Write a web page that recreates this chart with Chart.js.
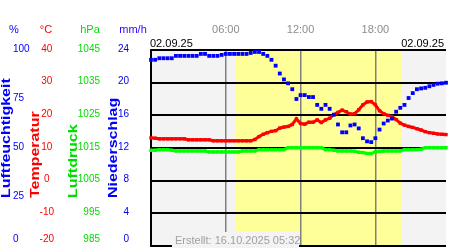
<!DOCTYPE html>
<html>
<head>
<meta charset="utf-8">
<script src="https://cdn.jsdelivr.net/npm/chart.js@4.4.0/dist/chart.umd.min.js"></script>
<style>
  body { margin: 0; background: #fff; }
  canvas { display: block; }
</style>
</head>
<body>
<canvas id="chart" width="450" height="250"></canvas>
<script>
// sample times (20 min steps) for 02.09.25
const times = [
  '00:00','00:20','00:40','01:00','01:20','01:40','02:00','02:20','02:40','03:00','03:20','03:40',
  '04:00','04:20','04:40','05:00','05:20','05:40','06:00','06:20','06:40','07:00','07:20','07:40',
  '08:00','08:20','08:40','09:00','09:20','09:40','10:00','10:20','10:40','11:00','11:20','11:40',
  '12:00','12:20','12:40','13:00','13:20','13:40','14:00','14:20','14:40','15:00','15:20','15:40',
  '16:00','16:20','16:40','17:00','17:20','17:40','18:00','18:20','18:40','19:00','19:20','19:40',
  '20:00','20:20','20:40','21:00','21:20','21:40','22:00','22:20','22:40','23:00','23:20','23:40'
];

// Luftfeuchtigkeit in %
const humidity = [
  95, 95, 95.8, 95.8, 95.8, 95.8, 97, 97, 97, 97, 97, 97,
  98, 98, 97, 97, 97, 97.5, 98, 98, 98, 98, 98, 98,
  98.5, 99, 99, 98, 97, 95, 92, 88, 85, 83, 80, 75,
  77, 77, 76, 76, 72, 70, 72, 70, 67, 62, 58, 58,
  61.5, 62, 60, 55, 53.4, 53, 55, 59.4, 62.5, 64, 65, 68.5,
  70.5, 72, 75.5, 78, 80, 80.4, 80.7, 81.5, 82.2, 82.8, 83, 83.3
];

// Temperatur in °C
const temperature = [
  13.1, 13.0, 12.8, 12.8, 12.8, 12.8, 12.8, 12.8, 12.8, 12.5, 12.5, 12.5,
  12.5, 12.5, 12.5, 12.2, 12.2, 12.2, 12.2, 12.2, 12.2, 12.2, 12.2, 12.2,
  12.2, 12.6, 13.5, 14.2, 14.7, 15.1, 15.3, 16.1, 16.4, 16.6, 17.2, 18.9,
  17.5, 17.3, 17.9, 17.9, 18.6, 17.8, 18.6, 19.1, 20.2, 20.9, 21.6, 21.1,
  20.4, 20.5, 21.7, 23.2, 24.1, 24.2, 23.2, 21.4, 20.5, 20.0, 19.6, 18.7,
  17.6, 17.0, 16.6, 16.3, 15.9, 15.5, 15.0, 14.7, 14.5, 14.3, 14.2, 14.1
];

// Luftdruck in hPa
const pressure = [
  1014.3, 1014.3, 1014.5, 1014.5, 1014.5, 1014.3, 1014.1, 1014.1, 1014.1, 1014.1, 1014.1, 1014.1,
  1014.1, 1014.1, 1013.8, 1013.8, 1013.8, 1013.8, 1013.8, 1013.8, 1013.8, 1013.8, 1014.1, 1014.1,
  1014.1, 1014.1, 1014.5, 1014.5, 1014.5, 1014.5, 1014.5, 1014.5, 1014.5, 1015.1, 1015.1, 1015.1,
  1015.1, 1015.1, 1015.1, 1015.1, 1015.1, 1015.1, 1014.5, 1014.5, 1014.3, 1014.1, 1014.1, 1014.1,
  1014.1, 1014.0, 1013.7, 1013.6, 1013.3, 1013.3, 1013.8, 1014.0, 1014.1, 1014.1, 1014.1, 1014.1,
  1014.1, 1014.5, 1014.5, 1014.5, 1014.5, 1014.6, 1015.1, 1015.1, 1015.1, 1015.1, 1015.1, 1015.1
];

// sunrise / sunset (yellow band)
const daylight = ['06:44', '20:05'];
const hourTicks = ['06:00', '12:00', '18:00'];
const dateLabel = '02.09.25';
const createdLabel = 'Erstellt: 16.10.2025 05:32';

const FONT = "'Liberation Sans', Arial, sans-serif";
Chart.defaults.font.family = FONT;
Chart.defaults.font.size = 10;

const timeIndex = t => (parseInt(t.slice(0, 2)) * 60 + parseInt(t.slice(3))) / 20;

// first tick label lifted a bit so it stays inside the canvas
const bottomLabel = (bottom) => (v) => v === bottom ? [String(v), ''] : String(v);

// fixed box sizes, no extra padding from labels
const fixSize = (w, h) => s => {
  if (w !== undefined) s.width = w;
  if (h !== undefined) s.height = h;
  s.paddingTop = s.paddingBottom = s.paddingLeft = s.paddingRight = 0;
};

function yAxis(opts) {
  return {
    position: 'left',
    weight: opts.weight,
    min: opts.min,
    max: opts.max,
    afterFit: fixSize(opts.width),
    grid: opts.grid || { display: false, drawTicks: false },
    border: opts.border || { display: false },
    title: { display: false },
    ticks: {
      stepSize: opts.step,
      color: opts.color,
      padding: opts.padding,
      crossAlign: opts.align,
      labelOffset: -1,
      font: { size: 10 },
      callback: bottomLabel(opts.min)
    }
  };
}

const decor = {
  id: 'decor',
  beforeDraw(chart) {
    const { ctx, chartArea: a, scales } = chart;
    ctx.save();
    ctx.fillStyle = '#f3f3f3';
    ctx.fillRect(a.left, a.top, a.right - a.left, a.bottom - a.top);
    const x1 = scales.x.getPixelForValue(timeIndex(daylight[0]));
    const x2 = scales.x.getPixelForValue(timeIndex(daylight[1]));
    ctx.fillStyle = '#ffff99';
    ctx.fillRect(x1, a.top, x2 - x1, a.bottom - a.top);
    ctx.restore();
  },
  afterDraw(chart) {
    const { ctx, chartArea: a } = chart;
    ctx.save();
    ctx.textBaseline = 'middle';
    ctx.font = '11px ' + FONT;

    // unit header
    ctx.textAlign = 'center';
    [['%', 14, '#0000ff'], ['°C', 46, '#ff0000'], ['hPa', 90, '#00dd00'], ['mm/h', 133, '#3300ff']]
      .forEach(([t, x, c]) => { ctx.fillStyle = c; ctx.fillText(t, x, 30); });

    // dates
    ctx.fillStyle = '#000';
    ctx.textAlign = 'left';
    ctx.fillText(dateLabel, a.left - 1, 44);
    ctx.textAlign = 'right';
    ctx.fillText(dateLabel, a.right - 2, 44);

    // created box at the bottom
    ctx.fillStyle = '#f3f3f3';
    ctx.fillRect(172, 232, 127, 16);
    ctx.fillStyle = '#a0a0a0';
    ctx.textAlign = 'left';
    ctx.fillText(createdLabel, 175, 241);

    // rotated axis titles
    ctx.font = 'bold 12px ' + FONT;
    ctx.textBaseline = 'alphabetic';
    [['Luftfeuchtigkeit', 10, '#0000ff'], ['Temperatur', 38.5, '#ff0000'],
     ['Luftdruck', 77, '#00dd00'], ['Niederschlag', 117, '#0000ff']]
      .forEach(([t, x, c]) => {
        ctx.save();
        ctx.translate(x, 198);
        ctx.rotate(-Math.PI / 2);
        ctx.scale(1.33, 1);
        ctx.fillStyle = c;
        ctx.fillText(t, 0, 0);
        ctx.restore();
      });
    ctx.restore();
  }
};

new Chart(document.getElementById('chart'), {
  type: 'line',
  data: {
    labels: times,
    datasets: [
      {
        label: 'Luftfeuchtigkeit',
        data: humidity,
        yAxisID: 'hum',
        showLine: false,
        pointStyle: 'rect',
        pointRadius: 2.7,
        backgroundColor: '#0000ff',
        borderColor: '#0000ff',
        borderWidth: 0,
        order: 0
      },
      {
        label: 'Temperatur',
        data: temperature,
        yAxisID: 'temp',
        borderColor: '#ff0000',
        backgroundColor: '#ff0000',
        borderWidth: 3,
        pointStyle: 'rect',
        pointRadius: 2.4,
        pointBorderWidth: 0,
        tension: 0,
        order: 1
      },
      {
        label: 'Luftdruck',
        data: pressure,
        yAxisID: 'pres',
        borderColor: '#00ff00',
        backgroundColor: '#00ff00',
        borderWidth: 3,
        pointStyle: 'rect',
        pointRadius: 2.4,
        pointBorderWidth: 0,
        tension: 0,
        order: 2
      }
    ]
  },
  options: {
    responsive: false,
    animation: false,
    devicePixelRatio: 1,
    layout: { padding: { left: 13, right: 1, top: 0, bottom: 1 } },
    plugins: { legend: { display: false }, tooltip: { enabled: false } },
    scales: {
      x: {
        position: 'top',
        afterFit: fixSize(undefined, 50),
        border: { display: false },
        grid: {
          drawTicks: false,
          lineWidth: 1.5,
          color: c => hourTicks.includes(times[c.index]) ? '#808080' : 'rgba(0,0,0,0)'
        },
        ticks: {
          autoSkip: false,
          maxRotation: 0,
          minRotation: 0,
          padding: 13.4,
          color: '#8c8c8c',
          font: { size: 11 },
          callback: (v, i) => hourTicks.includes(times[i]) ? times[i] : ''
        }
      },
      hum: yAxis({ weight: 4, min: 0, max: 100, step: 25, width: 17, color: '#0000ff', padding: 0, align: 'far' }),
      temp: yAxis({
        weight: 3, min: -20, max: 40, step: 10, width: 26, color: '#ff0000', padding: 2, align: 'center',
        grid: { drawOnChartArea: true, drawTicks: false, color: '#000', lineWidth: 2 }
      }),
      pres: yAxis({ weight: 2, min: 985, max: 1045, step: 10, width: 48, color: '#00dd00', padding: 4, align: 'near' }),
      rain: yAxis({
        weight: 1, min: 0, max: 24, step: 4, width: 47, color: '#0000ee', padding: 22, align: 'near',
        border: { display: true, color: '#000', width: 2 }
      })
    }
  },
  plugins: [decor]
});
</script>
</body>
</html>
